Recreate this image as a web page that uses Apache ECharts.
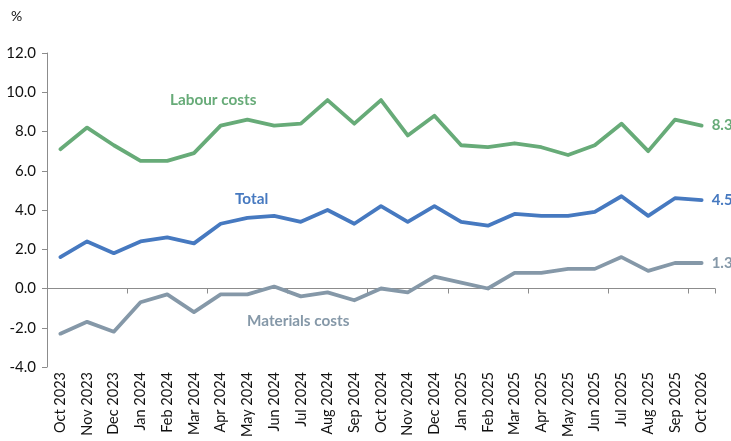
<!DOCTYPE html>
<html>
<head>
<meta charset="utf-8">
<script src="https://cdn.jsdelivr.net/npm/echarts@6/dist/echarts.min.js"></script>
<style>
  html, body { margin: 0; padding: 0; background: #fff; }
  #chart { width: 731px; height: 441px; }
</style>
</head>
<body>
<div id="chart"></div>
<script>
// Monthly labels along the horizontal axis
const months = [
  'Oct 2023', 'Nov 2023', 'Dec 2023', 'Jan 2024', 'Feb 2024', 'Mar 2024',
  'Apr 2024', 'May 2024', 'Jun 2024', 'Jul 2024', 'Aug 2024', 'Sep 2024',
  'Oct 2024', 'Nov 2024', 'Dec 2024', 'Jan 2025', 'Feb 2025', 'Mar 2025',
  'Apr 2025', 'May 2025', 'Jun 2025', 'Jul 2025', 'Aug 2025', 'Sep 2025',
  'Oct 2026'
];

// Annual change, %
const labourCosts = [7.1, 8.2, 7.3, 6.5, 6.5, 6.9, 8.3, 8.6, 8.3, 8.4, 9.6, 8.4,
  9.6, 7.8, 8.8, 7.3, 7.2, 7.4, 7.2, 6.8, 7.3, 8.4, 7.0, 8.6, 8.3];
const total = [1.6, 2.4, 1.8, 2.4, 2.6, 2.3, 3.3, 3.6, 3.7, 3.4, 4.0, 3.3,
  4.2, 3.4, 4.2, 3.4, 3.2, 3.8, 3.7, 3.7, 3.9, 4.7, 3.7, 4.6, 4.5];
const materialsCosts = [-2.3, -1.7, -2.2, -0.7, -0.3, -1.2, -0.3, -0.3, 0.1, -0.4, -0.2, -0.6,
  0.0, -0.2, 0.6, 0.3, 0.0, 0.8, 0.8, 1.0, 1.0, 1.6, 0.9, 1.3, 1.3];

const FONT = 'Lato, "Noto Sans", sans-serif';
const GREEN = '#67ab78';
const BLUE = '#4679c0';
const GREY = '#8598a8';
const AXIS = '#8c8c8c';

function lineSeries(name, data, color) {
  return {
    name: name,
    type: 'line',
    xAxisIndex: 0,
    data: data,
    symbol: 'none',
    lineStyle: { color: color, width: 3.8, cap: 'round', join: 'round' },
    endLabel: {
      show: true,
      formatter: p => p.value.toFixed(1),
      color: color,
      fontFamily: FONT,
      fontWeight: 'bold',
      fontSize: 15,
      distance: 10
    },
    animation: false
  };
}

const chart = echarts.init(document.getElementById('chart'), null, { renderer: 'canvas' });
chart.setOption({
  animation: false,
  grid: { left: 47, right: 16, top: 53, bottom: 74, containLabel: false },
  xAxis: [
    {
      type: 'category',
      data: months,
      boundaryGap: true,
      axisLine: { show: true, onZero: true, lineStyle: { color: AXIS, width: 1 } },
      axisTick: { show: true, length: 5, lineStyle: { color: AXIS } },
      axisLabel: { show: false },
      splitLine: { show: false }
    },
    {
      type: 'category',
      data: months,
      position: 'bottom',
      boundaryGap: true,
      axisLine: { show: false, onZero: false },
      axisTick: { show: false },
      axisLabel: {
        show: true,
        interval: 0,
        rotate: 90,
        margin: 5,
        color: '#111',
        fontFamily: FONT,
        fontSize: 14.5
      },
      splitLine: { show: false }
    }
  ],
  yAxis: {
    type: 'value',
    min: -4,
    max: 12,
    interval: 2,
    axisLine: { show: true, lineStyle: { color: AXIS, width: 1 } },
    axisTick: { show: true, length: 5, lineStyle: { color: AXIS } },
    axisLabel: {
      formatter: v => v.toFixed(1),
      color: '#111',
      fontFamily: FONT,
      fontSize: 15,
      margin: 11
    },
    splitLine: { show: false }
  },
  graphic: [
    { type: 'text', left: 11, top: 9, style: { text: '%', fill: '#111', font: '14px ' + FONT } },
    { type: 'text', left: 170, top: 93, style: { text: 'Labour costs', fill: GREEN, font: 'bold 15.3px ' + FONT } },
    { type: 'text', left: 235, top: 192, style: { text: 'Total', fill: BLUE, font: 'bold 15.3px ' + FONT } },
    { type: 'text', left: 247, top: 314, style: { text: 'Materials costs', fill: GREY, font: 'bold 15.3px ' + FONT } }
  ],
  series: [
    lineSeries('Labour costs', labourCosts, GREEN),
    lineSeries('Total', total, BLUE),
    lineSeries('Materials costs', materialsCosts, GREY),
    // keep the second category axis bound to the grid
    { type: 'line', xAxisIndex: 1, data: [], silent: true }
  ]
});
</script>
</body>
</html>
